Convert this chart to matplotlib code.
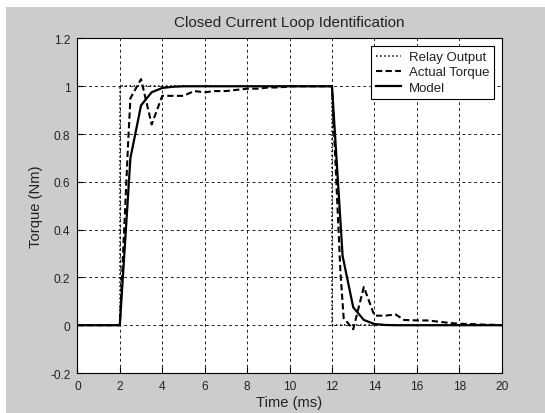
import matplotlib
matplotlib.use("Agg")
import matplotlib.pyplot as plt
from matplotlib.patches import Rectangle

plt.rcParams['font.family'] = ['Liberation Sans', 'DejaVu Sans']

# Relay output (step on at 2 ms, off at 12 ms)
t_relay = [0, 2, 2, 12, 12, 20]
relay = [0, 0, 1, 1, 0, 0]

# Measured torque
t_act = [0, 2.0, 2.4, 2.5, 3.0, 3.5, 4.0, 4.5, 5.0, 5.5, 6.0, 6.5, 7.0, 7.5, 8.0,
         8.5, 9.0, 9.5, 10.0, 12.0, 12.4, 12.55, 13.0, 13.5, 14.0, 14.5, 15.0,
         15.4, 16.0, 16.5, 17.0, 17.5, 18.0, 18.5, 19.0, 19.5, 20.0]
actual = [0, 0.0, 0.78, 0.95, 1.03, 0.84, 0.96, 0.96, 0.96, 0.98, 0.975, 0.98, 0.98,
          0.985, 0.99, 0.99, 0.995, 0.995, 1.0, 1.0, 0.22, 0.03, -0.017, 0.16, 0.04,
          0.04, 0.045, 0.022, 0.02, 0.02, 0.015, 0.01, 0.006, 0.005, 0.003, 0.002, 0.0]

# Identified model
t_mod = [0, 2.0, 2.5, 3.0, 3.5, 4.0, 4.5, 5.0, 12.0, 12.5, 13.0, 13.5, 14.0, 14.5, 15.0, 20.0]
model = [0, 0.0, 0.70, 0.92, 0.975, 0.993, 0.998, 1.0, 1.0, 0.29, 0.075, 0.022, 0.005, 0.001, 0.0, 0.0]

txt = '#222222'

fig = plt.figure(figsize=(5.45, 4.14), dpi=100)
fig.patch.set_facecolor('white')
fig.add_artist(Rectangle((6 / 545, 0), 1, 1 - 8 / 414, transform=fig.transFigure,
                         facecolor='#cccccc', edgecolor='none', zorder=-10))

ax = fig.add_axes([0.142, 0.0966, 0.7786, 0.808])
ax.set_facecolor('white')

ax.plot(t_relay, relay, color='black', linestyle=':', lw=1.1, label='Relay Output')
ax.plot(t_act, actual, color='black', linestyle=(0, (3, 1.6)), lw=1.5, label='Actual Torque')
ax.plot(t_mod, model, color='black', linestyle='-', lw=1.6, label='Model')

ax.set_xlim(0, 20)
ax.set_ylim(-0.2, 1.2)
ax.set_xticks(range(0, 21, 2))
ax.set_yticks([-0.2, 0, 0.2, 0.4, 0.6, 0.8, 1, 1.2])
ax.set_yticklabels(['-0.2', '0', '0.2', '0.4', '0.6', '0.8', '1', '1.2'])
ax.grid(True, color='black', linestyle=(0, (3.5, 3.5)), lw=0.6)
ax.tick_params(direction='in', length=4, labelsize=8.6, colors='black',
               labelcolor=txt, pad=5)
for s in ax.spines.values():
    s.set_linewidth(0.8)

ax.set_title('Closed Current Loop Identification', fontsize=11, pad=9, color=txt)
ax.set_xlabel('Time (ms)', fontsize=10.6, labelpad=2, color=txt)
ax.set_ylabel('Torque (Nm)', fontsize=10.6, labelpad=5, color=txt)

leg = ax.legend(loc='upper right', fontsize=9.5, fancybox=False, framealpha=1,
                edgecolor='black', handlelength=1.9, handletextpad=0.55,
                labelspacing=0.22, borderaxespad=0.55, borderpad=0.4)
leg.get_frame().set_linewidth(0.8)
for t in leg.get_texts():
    t.set_color(txt)

fig.savefig('out.png', dpi=100)
